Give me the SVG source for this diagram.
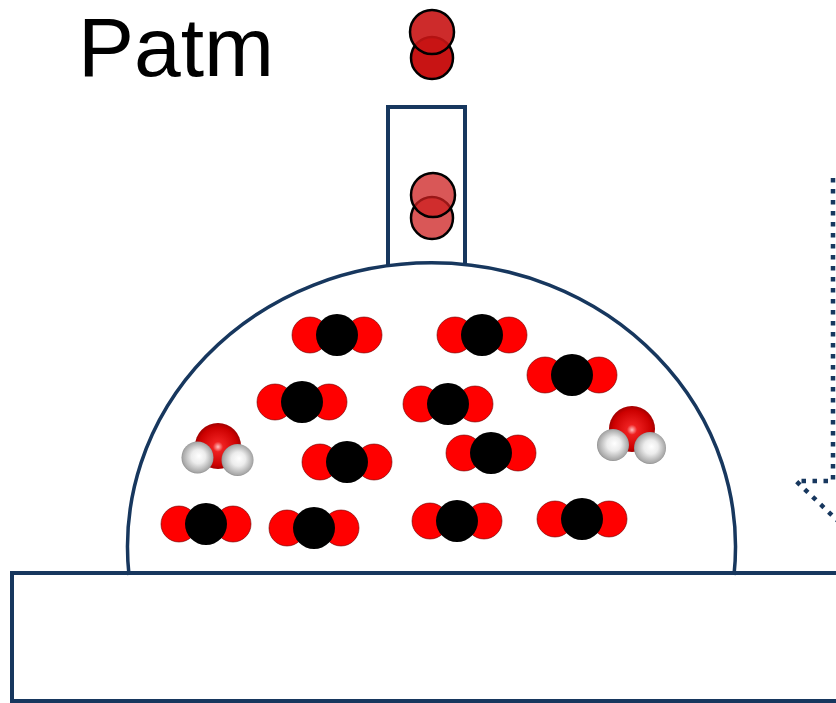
<svg xmlns="http://www.w3.org/2000/svg" width="836" height="703" viewBox="0 0 836 703">
  <style>
    .wall { fill: #ffffff; stroke: #17375E; stroke-width: 4; }
    .arc { fill: none; stroke: #17375E; stroke-width: 3.5; }
    .o2 { stroke: #000000; stroke-width: 2.5; }
    .o2-out { fill: #c81414; }
    .o2-in { fill: #cc1f1f; fill-opacity: 0.75; }
    .cO { fill: #ff0000; stroke: #6a0000; stroke-width: 0.6; }
    .cC { fill: #000000; }
    .label { font-family: "Liberation Sans", Arial, sans-serif; font-size: 84px; fill: #000000; }
    .flow { fill: none; stroke: #17375E; stroke-width: 4.5; stroke-dasharray: 4.5 6.5; }
  </style>
  <defs>
    <radialGradient id="oxy" cx="0.5" cy="0.5" r="0.55" fx="0.5" fy="0.52">
      <stop offset="0" stop-color="#ffc0c0"/>
      <stop offset="0.2" stop-color="#ee2020"/>
      <stop offset="0.75" stop-color="#cc0000"/>
      <stop offset="1" stop-color="#8a0000"/>
    </radialGradient>
    <radialGradient id="hyd" cx="0.5" cy="0.5" r="0.55" fx="0.55" fy="0.45">
      <stop offset="0" stop-color="#ffffff"/>
      <stop offset="0.4" stop-color="#ececec"/>
      <stop offset="0.85" stop-color="#a8a8a8"/>
      <stop offset="1" stop-color="#707070"/>
    </radialGradient>
    <g id="co2">
      <circle class="cO" cx="-27" cy="0" r="18"/>
      <circle class="cO" cx="27" cy="0" r="18"/>
      <circle class="cC" cx="0" cy="0" r="21"/>
    </g>
  </defs>

  <!-- label -->
  <text class="label" x="78" y="76">Patm</text>

  <!-- base plate -->
  <g id="base">
    <rect class="wall" x="12" y="573" width="850" height="128"/>
  </g>

  <!-- outlet tube (open at the bottom) and dome -->
  <g id="tube">
    <path class="wall" d="M 388 266 L 388 107 L 465 107 L 465 266"/>
  </g>
  <g id="dome">
    <path class="arc" d="M 129 575 A 304 284 0 1 1 734 575"/>
  </g>

  <!-- escaping O2 above the tube -->
  <g id="o2-top">
    <circle class="o2 o2-out" cx="432" cy="58" r="21"/>
    <circle class="o2 o2-out" cx="432" cy="32" r="22" fill-opacity="0.9"/>
  </g>

  <!-- O2 inside the tube -->
  <g id="o2-tube">
    <circle class="o2 o2-in" cx="432" cy="218" r="21"/>
    <circle class="o2 o2-in" cx="433" cy="195" r="22"/>
  </g>

  <!-- CO2 molecules -->
  <g id="co2-set">
    <use href="#co2" x="337" y="335"/>
    <use href="#co2" x="482" y="335"/>
    <use href="#co2" x="572" y="375"/>
    <use href="#co2" x="302" y="402"/>
    <use href="#co2" x="448" y="404"/>
    <use href="#co2" x="347" y="462"/>
    <use href="#co2" x="491" y="453"/>
    <use href="#co2" x="206" y="524"/>
    <use href="#co2" x="314" y="528"/>
    <use href="#co2" x="457" y="521"/>
    <use href="#co2" x="582" y="519"/>
  </g>

  <!-- water molecules -->
  <g id="h2o-left">
    <circle cx="218" cy="446" r="23" fill="url(#oxy)"/>
    <circle cx="197.5" cy="457.5" r="16" fill="url(#hyd)"/>
    <circle cx="237.5" cy="460" r="16" fill="url(#hyd)"/>
  </g>
  <g id="h2o-right">
    <circle cx="632" cy="429" r="23" fill="url(#oxy)"/>
    <circle cx="613" cy="445" r="16" fill="url(#hyd)"/>
    <circle cx="650" cy="448" r="16" fill="url(#hyd)"/>
  </g>

  <!-- dotted flow arrow -->
  <g id="connectors">
    <path class="flow" d="M 833 178 L 833 481 L 796 481 L 900 580"/>
  </g>
</svg>
